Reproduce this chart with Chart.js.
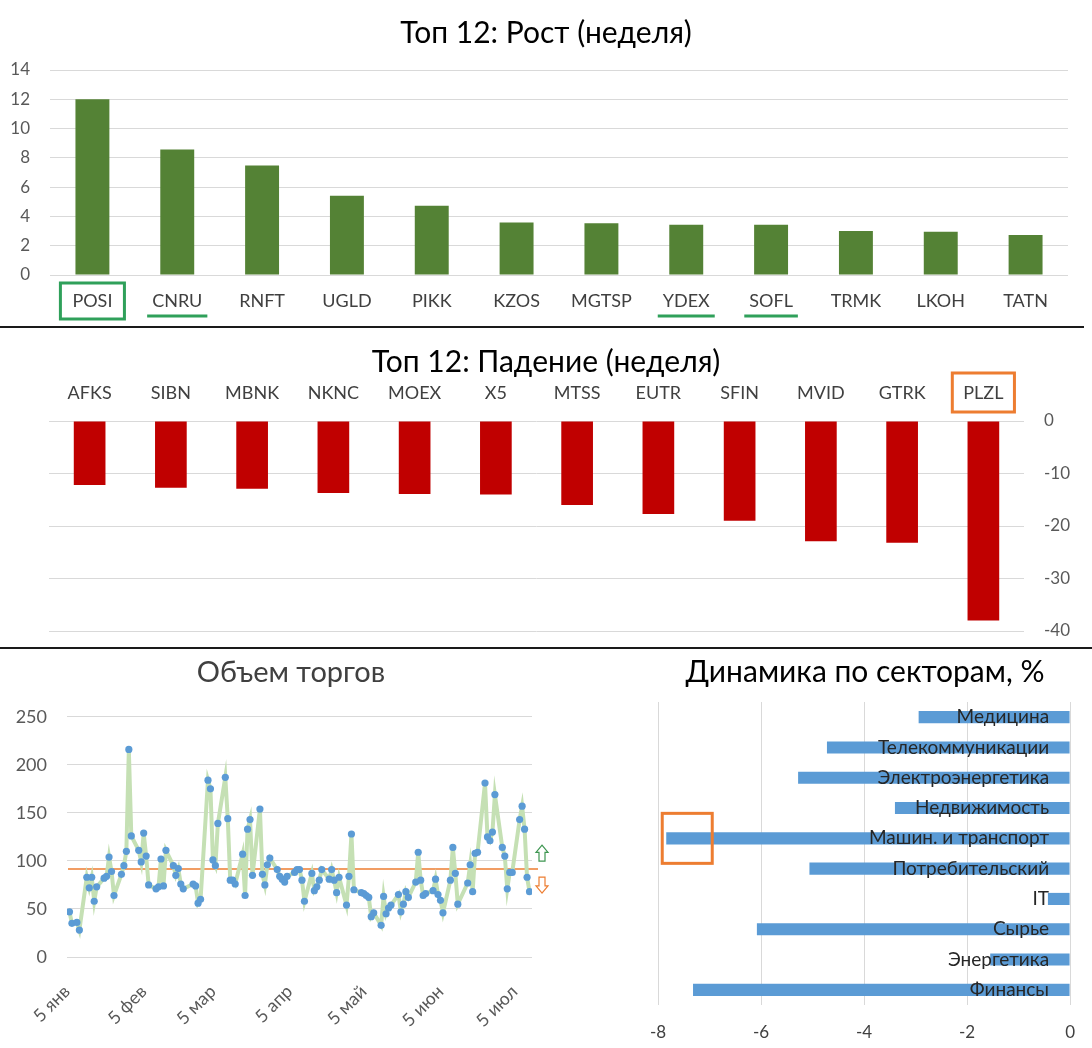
<!DOCTYPE html>
<html lang="ru">
<head>
<meta charset="utf-8">
<title>Итоги недели</title>
<script src="https://cdn.jsdelivr.net/npm/chart.js@4.4.1/dist/chart.umd.min.js"></script>
<style>
  html, body { margin: 0; padding: 0; background: #fff; }
  #page { position: relative; width: 1092px; height: 1048px; overflow: hidden; }
  .panel { position: absolute; }
  .rule { position: absolute; left: 0; height: 2px; background: #1a1a1a; }
</style>
</head>
<body>
<div id="page">
  <div class="panel" style="left:0;top:0;width:1092px;height:326px"><canvas id="growth"></canvas></div>
  <div class="rule" style="top:326px;width:1084px"></div>
  <div class="panel" style="left:0;top:329px;width:1092px;height:318px"><canvas id="fall"></canvas></div>
  <div class="rule" style="top:647px;width:1092px"></div>
  <div class="panel" style="left:0;top:650px;width:582px;height:398px"><canvas id="volume"></canvas></div>
  <div class="panel" style="left:560px;top:650px;width:532px;height:398px"><canvas id="sectors"></canvas></div>
</div>
<script>
// Топ 12: Рост (неделя), %
const growthTickers = ["POSI", "CNRU", "RNFT", "UGLD", "PIKK", "KZOS", "MGTSP", "YDEX", "SOFL", "TRMK", "LKOH", "TATN"];
const growthValues = [12.0, 8.57, 7.47, 5.41, 4.73, 3.58, 3.53, 3.43, 3.43, 3.0, 2.96, 2.73];
const growthBoxed = ["POSI"];
const growthUnderlined = ["CNRU", "YDEX", "SOFL"];

// Топ 12: Падение (неделя), %
const fallTickers = ["AFKS", "SIBN", "MBNK", "NKNC", "MOEX", "X5", "MTSS", "EUTR", "SFIN", "MVID", "GTRK", "PLZL"];
const fallValues = [-12.2, -12.7, -12.9, -13.7, -13.9, -14.0, -16.0, -17.7, -19.0, -22.9, -23.2, -38.0];
const fallBoxed = ["PLZL"];

// Объем торгов: день (от 5 янв) и объем
const volumeDays = [1, 2, 4, 5, 8, 9, 10, 11, 12, 15, 16, 17, 18, 19, 22, 23, 24, 25, 26, 29, 30, 31, 32, 33,
  36, 37, 38, 39, 40, 43, 44, 45, 46, 47, 51, 52, 53, 54, 57, 58, 59, 60, 61, 64, 65, 66, 67, 68,
  71, 72, 73, 74, 75, 78, 79, 80, 81, 82, 85, 86, 87, 88, 89, 92, 93, 94, 95, 96, 99, 100, 101, 102, 103,
  106, 107, 108, 109, 110, 113, 114, 115, 116, 119, 120, 121, 122, 123, 124, 127, 128, 129, 130, 131,
  134, 135, 136, 137, 138, 141, 142, 143, 144, 145, 148, 149, 150, 151, 152, 155, 156, 157, 158,
  162, 163, 164, 165, 166, 169, 170, 171, 172, 173, 176, 177, 178, 179, 180, 183, 184, 185, 186, 187];
const volumeValues = [47, 35, 36, 28, 83, 72, 83, 58, 73, 82, 84, 104, 89, 64, 86, 95, 110, 216, 126, 111, 99, 129, 105, 75,
  71, 73, 102, 74, 111, 95, 85, 92, 76, 71, 76, 74, 56, 60, 184, 175, 101, 95, 139, 187, 144, 80, 80, 76,
  107, 64, 133, 143, 85, 154, 86, 75, 96, 103, 91, 84, 81, 78, 84, 88, 91, 91, 80, 58, 87, 69, 73, 80, 91,
  81, 91, 80, 67, 83, 54, 84, 128, 70, 67, 66, 64, 62, 42, 46, 33, 63, 45, 51, 54,
  65, 47, 55, 68, 62, 78, 109, 80, 64, 66, 69, 81, 65, 59, 46, 80, 114, 87, 55,
  77, 96, 68, 108, 109, 181, 125, 121, 130, 169, 114, 105, 71, 88, 88, 143, 157, 133, 83, 68];
const volumeAverage = 91.5;
const monthTickDays = [0, 31, 59, 90, 120, 151, 181];
const monthTickLabels = ["5 янв", "5 фев", "5 мар", "5 апр", "5 май", "5 июн", "5 июл"];

// Динамика по секторам, %
const sectorNames = ["Медицина", "Телекоммуникации", "Электроэнергетика", "Недвижимость", "Машин. и транспорт",
  "Потребительский", "IT", "Сырье", "Энергетика", "Финансы"];
const sectorValues = [-2.94, -4.72, -5.28, -3.40, -7.84, -5.06, -0.43, -6.08, -1.55, -7.32];
const sectorBoxed = ["Машин. и транспорт"];

const FONT = "Lato, 'Noto Sans', sans-serif";
Chart.defaults.font.family = FONT;
Chart.defaults.animation = false;
Chart.defaults.responsive = true;
Chart.defaults.maintainAspectRatio = false;
Chart.defaults.plugins.legend.display = false;
Chart.defaults.plugins.tooltip.enabled = false;

const GRID = "#D9D9D9";
const GREEN_MARK = "#2FA05A";
const ORANGE = "#ED7D31";

// пустая ось-распорка, чтобы заголовок стоял по центру как в оригинале
function spacerAxis(position, size) {
  return {
    position, display: true,
    ticks: { display: false }, grid: { display: false, drawTicks: false }, border: { display: false },
    afterFit: axis => { axis.width = size; }
  };
}

// рамки и подчеркивания у подписей категорий
const tickHighlights = {
  id: "tickHighlights",
  afterDraw(chart, args, opts) {
    const scale = chart.scales.x;
    const labels = chart.data.labels;
    const ctx = chart.ctx;
    const atTop = scale.position === "top";
    const edge = atTop ? scale.bottom : scale.top;
    const dir = atTop ? -1 : 1;
    ctx.save();
    ctx.font = opts.font;
    ctx.strokeStyle = opts.color;
    ctx.lineWidth = opts.lineWidth;
    (opts.boxed || []).forEach(name => {
      const x = scale.getPixelForValue(labels.indexOf(name));
      const w = ctx.measureText(name).width + opts.boxPad * 2;
      const y1 = edge + dir * opts.boxNear;
      const y2 = edge + dir * opts.boxFar;
      ctx.strokeRect(x - w / 2, Math.min(y1, y2), w, Math.abs(y2 - y1));
    });
    (opts.underlined || []).forEach(name => {
      const x = scale.getPixelForValue(labels.indexOf(name));
      const w = ctx.measureText(name).width + opts.linePad * 2;
      const y = edge + dir * opts.lineAt;
      ctx.beginPath();
      ctx.moveTo(x - w / 2, y);
      ctx.lineTo(x + w / 2, y);
      ctx.stroke();
    });
    ctx.restore();
  }
};

// средний объем + стрелки
function blockArrow(ctx, cx, tipY, baseY, color) {
  const headH = (baseY - tipY) * 0.45;
  ctx.beginPath();
  ctx.moveTo(cx, tipY);
  ctx.lineTo(cx + 6, tipY + headH);
  ctx.lineTo(cx + 3, tipY + headH);
  ctx.lineTo(cx + 3, baseY);
  ctx.lineTo(cx - 3, baseY);
  ctx.lineTo(cx - 3, tipY + headH);
  ctx.lineTo(cx - 6, tipY + headH);
  ctx.closePath();
  ctx.strokeStyle = color;
  ctx.lineWidth = 1.2;
  ctx.stroke();
}

const averageMark = {
  id: "averageMark",
  beforeDatasetsDraw(chart, args, opts) {
    const { ctx, chartArea, scales } = chart;
    const py = scales.y.getPixelForValue(opts.value);
    ctx.save();
    ctx.strokeStyle = ORANGE;
    ctx.lineWidth = 1.5;
    ctx.beginPath();
    ctx.moveTo(chartArea.left + 1, py);
    ctx.lineTo(chartArea.right + 6, py);
    ctx.stroke();
    blockArrow(ctx, chartArea.right + 10, py - 24, py - 8, "#3E9651");
    blockArrow(ctx, chartArea.right + 10, py + 24, py + 8, ORANGE);
    ctx.restore();
  }
};

// рамка у конца столбца сектора
const barEndBoxes = {
  id: "barEndBoxes",
  afterDraw(chart, args, opts) {
    const meta = chart.getDatasetMeta(0);
    const ctx = chart.ctx;
    ctx.save();
    ctx.strokeStyle = ORANGE;
    ctx.lineWidth = 3;
    opts.names.forEach(name => {
      const bar = meta.data[chart.data.labels.indexOf(name)];
      const cx = bar.x + opts.shift;
      ctx.strokeRect(cx - opts.size / 2, bar.y - opts.size / 2, opts.size, opts.size);
    });
    ctx.restore();
  }
};

new Chart(document.getElementById("growth"), {
  type: "bar",
  data: {
    labels: growthTickers,
    datasets: [{ data: growthValues, backgroundColor: "#548235", categoryPercentage: 1, barPercentage: 0.4 }]
  },
  options: {
    layout: { padding: { left: 0, right: 0, top: 0, bottom: 14 } },
    plugins: {
      title: {
        display: true, text: "Топ 12: Рост (неделя)", color: "#000",
        font: { size: 30, weight: "normal" }, padding: { top: 15, bottom: 19 }
      },
      tickHighlights: {
        font: "18px " + FONT, color: GREEN_MARK, lineWidth: 3,
        boxed: growthBoxed, underlined: growthUnderlined,
        boxPad: 12, boxNear: 8, boxFar: 44, linePad: 5, lineAt: 41
      }
    },
    scales: {
      x: {
        grid: { display: false, drawTicks: false }, border: { display: false },
        ticks: { color: "#404040", font: { size: 18 }, padding: 15, maxRotation: 0 },
        afterFit: axis => { axis.height = 37; }
      },
      y: {
        min: 0, max: 14,
        ticks: { stepSize: 2, color: "#595959", font: { size: 17 }, padding: 20 },
        grid: { color: GRID, drawTicks: false }, border: { display: false },
        afterFit: axis => { axis.width = 50; }
      },
      pad: spacerAxis("right", 24)
    }
  },
  plugins: [tickHighlights]
});

new Chart(document.getElementById("fall"), {
  type: "bar",
  data: {
    labels: fallTickers,
    datasets: [{ data: fallValues, backgroundColor: "#C00000", categoryPercentage: 1, barPercentage: 0.39 }]
  },
  options: {
    layout: { padding: { left: 0, right: 0, top: 0, bottom: 16 } },
    plugins: {
      title: {
        display: true, text: "Топ 12: Падение (неделя)", color: "#000",
        font: { size: 30, weight: "normal" }, padding: { top: 15, bottom: 2 }
      },
      tickHighlights: {
        font: "18px " + FONT, color: ORANGE, lineWidth: 3,
        boxed: fallBoxed, boxPad: 11, boxNear: 9, boxFar: 48
      }
    },
    scales: {
      x: {
        position: "top",
        grid: { display: false, drawTicks: false }, border: { display: false },
        ticks: { color: "#404040", font: { size: 18 }, padding: 17, maxRotation: 0 },
        afterFit: axis => { axis.height = 39; }
      },
      y: {
        position: "right", min: -40, max: 0,
        ticks: { stepSize: 10, color: "#595959", font: { size: 17 }, padding: 20 },
        grid: { color: GRID, drawTicks: false }, border: { display: false },
        afterFit: axis => { axis.width = 68; axis.paddingBottom = 0; }
      },
      pad: spacerAxis("left", 49)
    }
  },
  plugins: [tickHighlights]
});

new Chart(document.getElementById("volume"), {
  type: "line",
  data: {
    datasets: [{
      data: volumeDays.map((d, i) => ({ x: d, y: volumeValues[i] })),
      borderColor: "#C5E0B4", borderWidth: 4, tension: 0,
      pointRadius: 3.6, pointBackgroundColor: "#5B9BD5", pointBorderWidth: 0
    }]
  },
  options: {
    layout: { padding: { left: 0, right: 0, top: 0, bottom: 0 } },
    plugins: {
      title: {
        display: true, text: "Объем торгов", color: "#404040",
        font: { size: 29, weight: "normal" }, padding: { top: 5, bottom: 27 }
      },
      averageMark: { value: volumeAverage }
    },
    scales: {
      x: {
        type: "linear", min: 0, max: 188,
        afterBuildTicks: axis => { axis.ticks = monthTickDays.map(v => ({ value: v })); },
        ticks: {
          autoSkip: false, minRotation: 45, maxRotation: 45, padding: 24,
          color: "#595959", font: { size: 18 },
          callback: v => monthTickLabels[monthTickDays.indexOf(v)]
        },
        grid: { display: false, drawTicks: false }, border: { display: false },
        afterFit: axis => { axis.height = 91; }
      },
      y: {
        min: 0, max: 250,
        ticks: { stepSize: 50, color: "#595959", font: { size: 18 }, padding: 20 },
        grid: { color: GRID, drawTicks: false }, border: { display: false },
        afterFit: axis => { axis.width = 67; }
      },
      pad: spacerAxis("right", 50)
    }
  },
  plugins: [averageMark]
});

new Chart(document.getElementById("sectors"), {
  type: "bar",
  data: {
    labels: sectorNames,
    datasets: [{ data: sectorValues, backgroundColor: "#5B9BD5", categoryPercentage: 1, barPercentage: 0.4 }]
  },
  options: {
    indexAxis: "y",
    layout: { padding: { left: 98, right: 20, top: 0, bottom: 4 } },
    plugins: {
      title: {
        display: true, text: "Динамика по секторам, %", color: "#000",
        font: { size: 30, weight: "normal" }, padding: { top: 4, bottom: 12 }
      },
      barEndBoxes: { names: sectorBoxed, shift: 21, size: 50 }
    },
    scales: {
      x: {
        min: -8, max: 0,
        ticks: { stepSize: 2, color: "#404040", font: { size: 17 }, padding: 17 },
        grid: { color: GRID, drawTicks: false }, border: { display: false },
        afterFit: axis => { axis.height = 39; }
      },
      y: {
        position: "right",
        grid: { display: false, drawTicks: false }, border: { display: false },
        ticks: { mirror: true, padding: -21, color: "#262626", font: { size: 19 }, z: 1 },
        afterFit: axis => { axis.width = 0; }
      }
    }
  },
  plugins: [barEndBoxes]
});
</script>
</body>
</html>
